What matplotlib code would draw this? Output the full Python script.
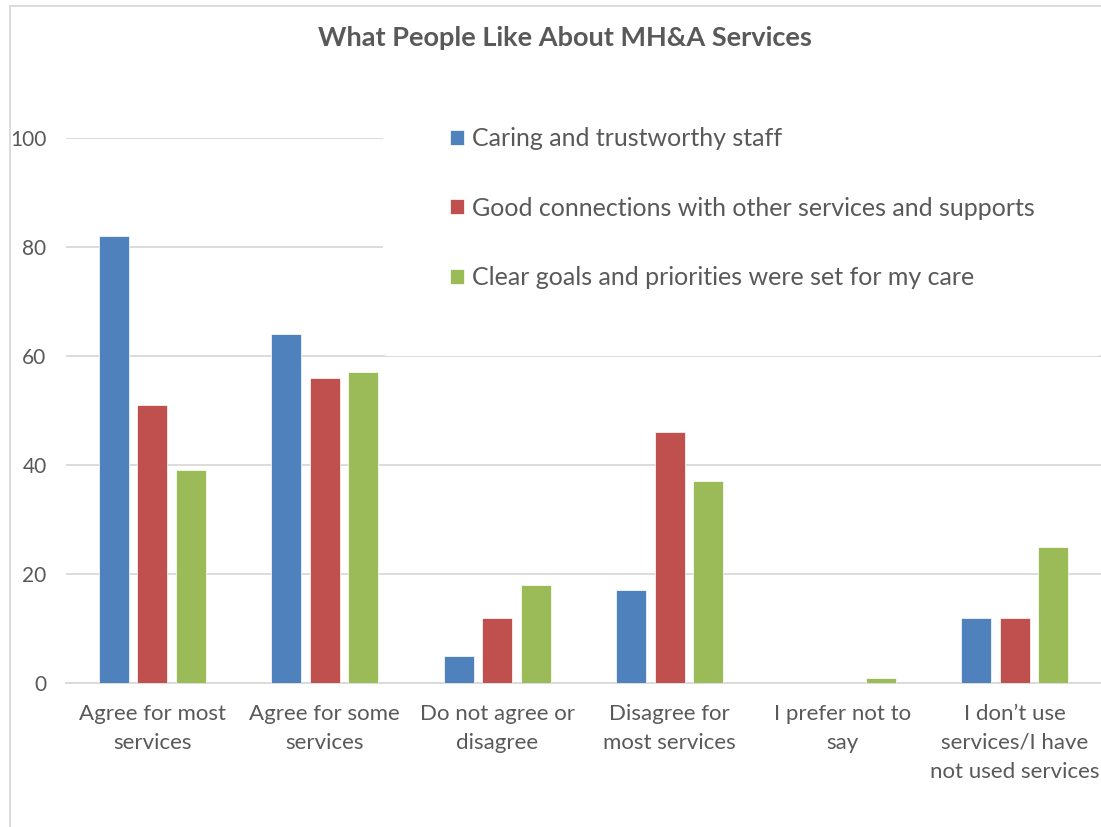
import numpy as np
import matplotlib
matplotlib.use("Agg")
import matplotlib.pyplot as plt
from matplotlib.patches import Rectangle

plt.rcParams['font.family'] = ['Lato', 'DejaVu Sans']

categories = ["Agree for most\nservices", "Agree for some\nservices",
              "Do not agree or\ndisagree", "Disagree for\nmost services",
              "I prefer not to\nsay", "I don\u2019t use\nservices/I have\nnot used services"]
series_names = ["Caring and trustworthy staff",
                "Good connections with other services and supports",
                "Clear goals and priorities were set for my care"]
caring = [82, 64, 5, 17, 0, 12]
connections = [51, 56, 12, 46, 0, 12]
goals = [39, 57, 18, 37, 1, 25]
colors = ["#4F81BD", "#C0504D", "#9BBB59"]
yticks = [0, 20, 40, 60, 80, 100]

text_gray = "#595959"

fig = plt.figure(figsize=(11.01, 8.27), dpi=100)
ax = fig.add_axes([66 / 1101, 1 - 683 / 827, 1 - 66 / 1101, (683 - 138) / 827])

x = np.arange(len(categories))
width = 0.174
step = 0.223
for i, (vals, name, c) in enumerate(zip([caring, connections, goals], series_names, colors)):
    ax.bar(x + (i - 1) * step, vals, width, color=c, label=name, zorder=3,
           edgecolor="white", linewidth=0.5)

ax.set_xlim(-0.5, len(categories) - 0.5)
ax.set_ylim(0, 100)
ax.set_yticks(yticks)
ax.set_xticks(x)
ax.set_xticklabels(categories, fontsize=16, color=text_gray, linespacing=1.56)
ax.tick_params(axis='y', labelsize=15, colors=text_gray, length=0, pad=14)
ax.tick_params(axis='x', length=0, pad=15)
ax.grid(axis='y', color="#D9D9D9", linewidth=1.3, zorder=0)
for s in ax.spines.values():
    s.set_visible(False)
ax.spines['bottom'].set_visible(True)
ax.spines['bottom'].set_color("#D9D9D9")
ax.spines['bottom'].set_linewidth(1.3)

leg = ax.legend(loc='upper left', bbox_to_anchor=(383 / 1101, 1 - 60 / 827),
                bbox_transform=fig.transFigure, fontsize=18, frameon=True,
                facecolor="white", edgecolor="none", framealpha=1,
                borderpad=2.68, labelspacing=1.86, handlelength=0.55,
                handleheight=0.55, handletextpad=0.32, borderaxespad=0)
leg.set_zorder(5)
for t in leg.get_texts():
    t.set_color(text_gray)

fig.text(565 / 1101, 1 - 38 / 827, "What People Like About MH&A Services",
         ha='center', va='center', fontsize=19.5, fontweight='bold', color=text_gray)

# outer chart border
fig.patches.append(Rectangle((10 / 1101, -0.05), 1.1, 1.05 - 6 / 827,
                             transform=fig.transFigure, fill=False,
                             edgecolor="#D9D9D9", linewidth=1.3))

fig.savefig("out.png", dpi=100)
